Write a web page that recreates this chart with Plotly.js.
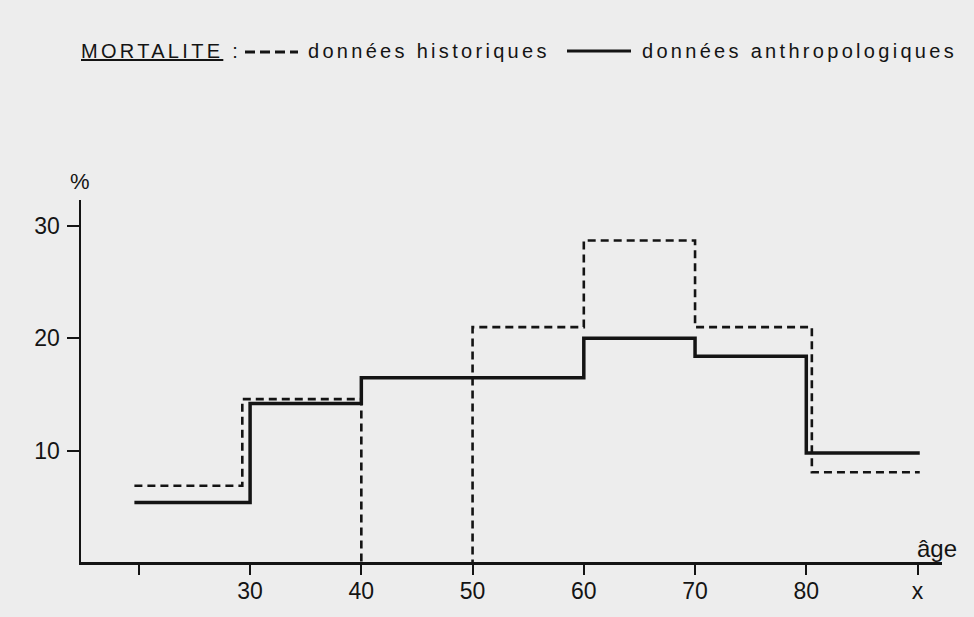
<!DOCTYPE html>
<html>
<head>
<meta charset="utf-8">
<script src="https://cdn.plot.ly/plotly-3.0.1.min.js"></script>
<style>html,body{margin:0;padding:0;background:#ededed;}#chart{width:974px;height:617px;}</style>
</head>
<body>
<div id="chart"></div>
<script>
// Age class edges and mortality (%) per class
var histEdges = [19.6, 29.3, 40, 50, 60, 70, 80.5, 90.2];
var histValues = [6.9, 14.6, 0, 21.0, 28.7, 21.0, 8.1];
var anthEdges = [19.6, 30, 40, 60, 70, 80, 90.2];
var anthValues = [5.4, 14.2, 16.5, 20.0, 18.4, 9.8];
var xTickVals = [20, 30, 40, 50, 60, 70, 80, 90];
var xTickText = ['', '30', '40', '50', '60', '70', '80', 'x'];
var yTickVals = [10, 20, 30];
var yTickText = ['10', '20', '30'];
var seriesNames = ['données historiques', 'données anthropologiques'];
var legendTitle = 'MORTALITE';

function stepY(vals){ return vals.concat([vals[vals.length-1]]); }
var sp = function(t){ return '<span style="letter-spacing:3.3px">' + t + '</span>'; };

var ink = '#141414';
var traces = [
  {x: histEdges, y: stepY(histValues), mode: 'lines', line: {shape: 'hv', color: ink, width: 2.6, dash: '8px,5px'}, name: seriesNames[0], hoverinfo: 'skip'},
  {x: anthEdges, y: stepY(anthValues), mode: 'lines', line: {shape: 'hv', color: ink, width: 3.5}, name: seriesNames[1], hoverinfo: 'skip'}
];

// plot area in pixels: left 81, width 861, top 200, bottom 562
var PL = 81, PW = 861, PB = 562, PH = 362;
function px(x){ return (x - PL) / PW; }
function py(y){ return (PB - y) / PH; }
var keyY = 51;

var layout = {
  width: 974, height: 617,
  paper_bgcolor: '#ededed', plot_bgcolor: '#ededed',
  margin: {l: 81, r: 32, t: 200, b: 55},
  font: {family: '"Liberation Sans", Arial, sans-serif', color: ink, size: 23},
  showlegend: false,
  xaxis: {
    range: [14.8, 92.2], showgrid: false, zeroline: false,
    showline: true, linecolor: ink, linewidth: 2.5,
    ticks: 'outside', ticklen: 10, tickwidth: 2, tickcolor: ink,
    tickvals: xTickVals, ticktext: xTickText, ticklabelstandoff: -3,
    tickfont: {size: 23}, fixedrange: true
  },
  yaxis: {
    range: [0.12, 32.3], showgrid: false, zeroline: false,
    showline: true, linecolor: ink, linewidth: 2.5,
    ticks: 'outside', ticklen: 12, tickwidth: 2, tickcolor: ink,
    tickvals: yTickVals, ticktext: yTickText, ticklabelstandoff: 2,
    tickfont: {size: 23}, fixedrange: true
  },
  shapes: [
    {type: 'line', xref: 'paper', yref: 'paper', x0: px(245), x1: px(298), y0: py(keyY + 1), y1: py(keyY + 1), line: {color: ink, width: 3, dash: '10px,5px'}},
    {type: 'line', xref: 'paper', yref: 'paper', x0: px(567), x1: px(631), y0: py(keyY), y1: py(keyY), line: {color: ink, width: 3.2}}
  ],
  annotations: [
    {text: sp('<u>' + legendTitle + '</u> :'), xref: 'paper', yref: 'paper', x: px(79), y: py(keyY), xanchor: 'left', yanchor: 'middle', showarrow: false, font: {size: 20}},
    {text: sp(seriesNames[0]), xref: 'paper', yref: 'paper', x: px(306), y: py(keyY), xanchor: 'left', yanchor: 'middle', showarrow: false, font: {size: 20}},
    {text: sp(seriesNames[1]), xref: 'paper', yref: 'paper', x: px(640), y: py(keyY), xanchor: 'left', yanchor: 'middle', showarrow: false, font: {size: 20}},
    {text: '%', xref: 'paper', yref: 'paper', x: px(80), y: py(181), xanchor: 'center', yanchor: 'middle', showarrow: false, font: {size: 22}},
    {text: 'âge', xref: 'paper', yref: 'paper', x: px(937), y: py(548), xanchor: 'center', yanchor: 'middle', showarrow: false, font: {size: 24}}
  ]
};

Plotly.newPlot('chart', traces, layout, {staticPlot: true, displayModeBar: false});
</script>
</body>
</html>
